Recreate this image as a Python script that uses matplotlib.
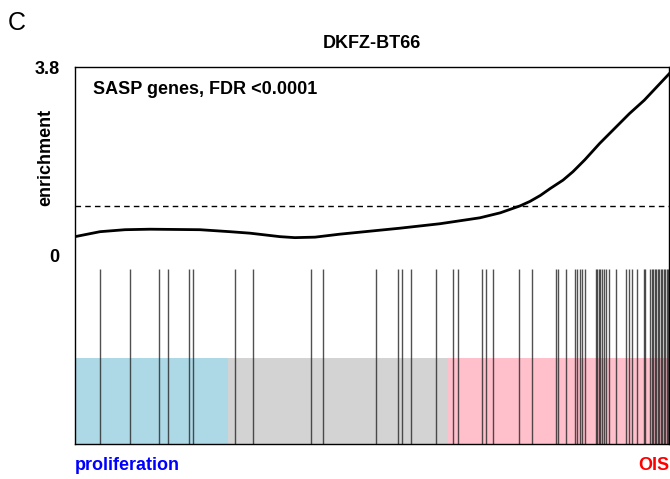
import numpy as np
import matplotlib.pyplot as plt

plt.rcParams['font.family'] = ['Liberation Sans', 'DejaVu Sans']

n_genes = 12000

# running enrichment score along the ranked gene list
curve_rank = [0, 505, 1010, 1515, 2525, 3130, 3535, 4140, 4440, 4850, 5350,
              6560, 7370, 8180, 8590, 8990, 9190, 9400, 9600, 9860, 10060,
              10300, 10600, 10860, 11200, 11500, 12000]
curve_score = [0.38, 0.48, 0.52, 0.53, 0.52, 0.48, 0.45, 0.38, 0.36, 0.37, 0.43,
               0.55, 0.64, 0.76, 0.86, 1.00, 1.09, 1.21, 1.35, 1.52, 1.69,
               1.93, 2.26, 2.52, 2.86, 3.13, 3.66]

# ranks of SASP genes (barcode)
hit_ranks = [505, 1111, 1697, 1879, 2293, 2378, 3232, 3606, 4777, 5009,
             6074, 6535, 6611, 6793, 7292, 7636, 7731, 8217, 8296, 8437,
             8969, 9231, 9720, 9750, 9914, 10110, 10146, 10201, 10247, 10312,
             10524, 10555, 10585, 10615, 10645, 10686, 10720, 10787, 10928,
             11124, 11201, 11262, 11346, 11494, 11524, 11625, 11655, 11686,
             11716, 11746, 11777, 11807, 11837, 11868, 11898, 11928, 11959,
             11979]

# phenotype blocks along the ranking
block_edges = [0, 3091, 7535, 12000]
block_colors = ['lightblue', 'lightgray', 'pink']

threshold = 1.0
ymax = 3.8

fig = plt.figure(figsize=(6.7, 4.79), dpi=100)
ax = fig.add_axes([75 / 670, 35 / 479, 594 / 670, 377 / 479])

for i in range(len(block_colors)):
    ax.fill_between([block_edges[i], block_edges[i + 1]], -ymax, -2.07,
                    color=block_colors[i], lw=0, zorder=1)

ax.vlines(hit_ranks, -ymax, -0.28, color='0.15', lw=1, alpha=0.8, zorder=2)

ax.axhline(threshold, color='black', lw=1, ls=(0, (4, 3)), zorder=3)
ax.plot(curve_rank, curve_score, color='black', lw=2, zorder=4,
        solid_joinstyle='round')

ax.set_xlim(0, n_genes)
ax.set_ylim(-ymax, ymax)
ax.set_xticks([])
ax.set_yticks([0, ymax])
ax.set_yticklabels(['0', '3.8'], fontsize=13, fontweight='bold')
ax.tick_params(axis='y', length=0, pad=18 - 7)
for s in ax.spines.values():
    s.set_linewidth(1)

ax.set_ylabel('enrichment', fontsize=13, fontweight='bold', labelpad=0)
ax.yaxis.set_label_coords(-0.035, 0.76)

ax.text(0.03, 0.94, 'SASP genes, FDR <0.0001', transform=ax.transAxes,
        fontsize=13, fontweight='bold', ha='left', va='center')
ax.set_title('DKFZ-BT66', fontsize=13, fontweight='bold', pad=14)

fig.text(75 / 670, 14 / 479, 'proliferation', color='blue', fontsize=13,
         fontweight='bold', ha='left', va='center')
fig.text(669 / 670, 14 / 479, 'OIS', color='red', fontsize=13,
         fontweight='bold', ha='right', va='center')
fig.text(8 / 670, 1 - 23 / 479, 'C', fontsize=18, ha='left', va='center')

fig.savefig('out.png', dpi=100)
